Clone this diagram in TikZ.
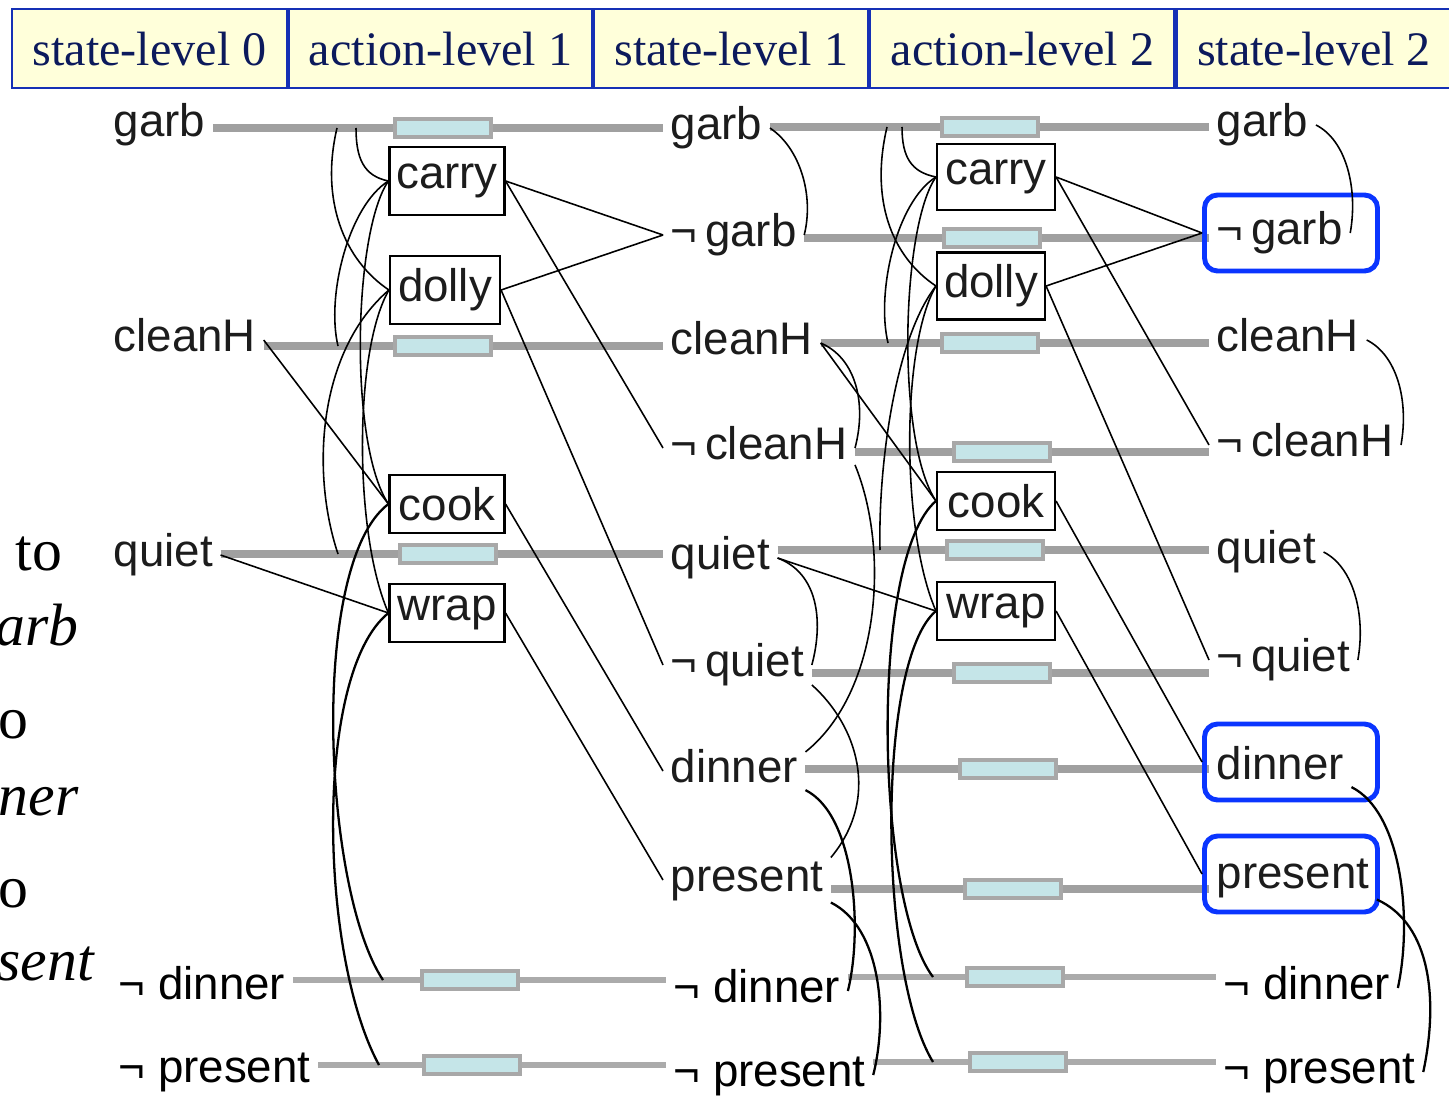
\documentclass[tikz,border=0pt]{standalone}
\usepackage{fontspec}
\setmainfont{Liberation Serif}
\setsansfont{Liberation Sans}
\usetikzlibrary{backgrounds}
\definecolor{hdrfill}{HTML}{FFFFDA}
\definecolor{hdrline}{HTML}{1530B5}
\definecolor{hdrtext}{HTML}{0C1A5C}
\definecolor{barcol}{HTML}{A0A0A0}
\definecolor{barlight}{HTML}{ABABAB}
\definecolor{noopfill}{HTML}{C5E5E8}
\definecolor{noopline}{HTML}{A8A8A8}
\definecolor{goalblue}{HTML}{0A35FF}
\definecolor{labcol}{HTML}{1C1C1C}
\begin{document}
\begin{tikzpicture}[x=0.1mm, y=-0.1mm,
  hdr/.style={draw=hdrline, fill=hdrfill, line width=0.6pt, minimum height=7.9mm, inner sep=0pt, text=hdrtext, font=\fontsize{13.7}{16}\selectfont, anchor=north west},
  lab/.style={anchor=west, inner sep=2pt, text height=9.7pt, text depth=2.9pt, text=labcol, font=\sffamily\fontsize{13}{15}\selectfont},
  neg/.style={lab, text=black},
  act/.style={draw, line width=0.6pt, fill=white, minimum width=11.5mm, inner sep=0pt, text=labcol, font=\sffamily\fontsize{13}{15}\selectfont},
  noop/.style={draw=noopline, fill=noopfill, line width=0.9pt, minimum width=9.6mm, minimum height=1.8mm, inner sep=0pt},
  bar/.style={draw=barcol, line width=2.3pt},
  thinbar/.style={draw=barlight, line width=1.8pt},
  goal/.style={draw=goalblue, line width=1.4pt, rounded corners=1.3mm, minimum width=17.3mm, minimum height=7.6mm},
  eff/.style={draw, line width=0.45pt},
  mx/.style={draw, line width=0.45pt},
  mxs/.style={draw, line width=0.65pt},
  side/.style={font=\fontsize{17}{20}\selectfont, anchor=base west, inner sep=0pt}
]
\useasboundingbox (0,0) rectangle (1449,1096);
\clip (0,0) rectangle (1449,1096);

\node[hdr, minimum width=27.5mm] (hs0) at (11,8) {state-level 0};
\node[hdr, minimum width=30.3mm] (ha1) at (hs0.north east) {action-level 1};
\node[hdr, minimum width=27.4mm] (hs1) at (ha1.north east) {state-level 1};
\node[hdr, minimum width=30.4mm] (ha2) at (hs1.north east) {action-level 2};
\node[hdr, minimum width=27.5mm] (hs2) at (ha2.north east) {state-level 2};

\node[side] (t1) at (15,570) {to};
\node[side] (t2) at (-5,645) {\itshape arb};
\node[side] (t3) at (-2,738) {o};
\node[side] (t4) at (-2,815) {\itshape ner};
\node[side] (t5) at (-2,907) {o};
\node[side] (t6) at (-3,980) {\itshape sent};

\node[lab] (s0garb) at (106,125) {garb};
\node[lab] (s0cleanH) at (106,340) {cleanH};
\node[lab] (s0quiet) at (106,555) {quiet};
\node[neg] (s0ndinner) at (111,988) {¬ dinner};
\node[neg] (s0npresent) at (111,1071) {¬ present};

\node[lab] (s1garb) at (663,128) {garb};
\node[lab] (s1ngarb) at (663,235) {¬\,garb};
\node[lab] (s1cleanH) at (663,343) {cleanH};
\node[lab] (s1ncleanH) at (663,448) {¬\,cleanH};
\node[lab] (s1quiet) at (663,558) {quiet};
\node[lab] (s1nquiet) at (663,665) {¬\,quiet};
\node[lab] (s1dinner) at (663,771) {dinner};
\node[lab] (s1present) at (663,880) {present};
\node[neg] (s1ndinner) at (666,991) {¬ dinner};
\node[neg] (s1npresent) at (666,1075) {¬ present};

\node[lab] (s2garb) at (1209,125) {garb};
\node[lab] (s2ngarb) at (1209,233) {¬\,garb};
\node[lab] (s2cleanH) at (1209,340) {cleanH};
\node[lab] (s2ncleanH) at (1209,445) {¬\,cleanH};
\node[lab] (s2quiet) at (1209,552) {quiet};
\node[lab] (s2nquiet) at (1209,660) {¬\,quiet};
\node[lab] (s2dinner) at (1209,768) {dinner};
\node[lab] (s2present) at (1209,877) {present};
\node[neg] (s2ndinner) at (1216,988) {¬ dinner};
\node[neg] (s2npresent) at (1216,1072) {¬ present};

\node[goal] (goalngarb) at (1291,233) {};
\node[goal] (goaldinner) at (1291,762) {};
\node[goal] (goalpresent) at (1291,874) {};

\node[noop] (n1garb) at (443,128) {};
\node[noop] (n1cleanH) at (443,346) {};
\node[noop] (n1quiet) at (448,554) {};
\node[noop] (n1ndinner) at (470,980) {};
\node[noop] (n1npresent) at (472,1065) {};

\node[noop] (n2garb) at (990,127) {};
\node[noop] (n2ngarb) at (992,238) {};
\node[noop] (n2cleanH) at (990,343) {};
\node[noop] (n2ncleanH) at (1002,452) {};
\node[noop] (n2quiet) at (995,550) {};
\node[noop] (n2nquiet) at (1002,673) {};
\node[noop] (n2dinner) at (1008,769) {};
\node[noop] (n2present) at (1013,889) {};
\node[noop] (n2ndinner) at (1015,977) {};
\node[noop] (n2npresent) at (1018,1062) {};

\begin{scope}[on background layer]
\draw[bar] (s0garb.east |- n1garb) -- (s1garb.west |- n1garb);
\draw[bar] (s0cleanH.east |- n1cleanH) -- (s1cleanH.west |- n1cleanH);
\draw[bar] (s0quiet.east |- n1quiet) -- (s1quiet.west |- n1quiet);
\draw[thinbar] (s0ndinner.east |- n1ndinner) -- (s1ndinner.west |- n1ndinner);
\draw[thinbar] (s0npresent.east |- n1npresent) -- (s1npresent.west |- n1npresent);
\draw[bar] (s1garb.east |- n2garb) -- (s2garb.west |- n2garb);
\draw[bar] (s1ngarb.east |- n2ngarb) -- (s2ngarb.west |- n2ngarb);
\draw[bar] (s1cleanH.east |- n2cleanH) -- (s2cleanH.west |- n2cleanH);
\draw[bar] (s1ncleanH.east |- n2ncleanH) -- (s2ncleanH.west |- n2ncleanH);
\draw[bar] (s1quiet.east |- n2quiet) -- (s2quiet.west |- n2quiet);
\draw[bar] (s1nquiet.east |- n2nquiet) -- (s2nquiet.west |- n2nquiet);
\draw[bar] (s1dinner.east |- n2dinner) -- (s2dinner.west |- n2dinner);
\draw[bar] (s1present.east |- n2present) -- (s2present.west |- n2present);
\draw[thinbar] (s1ndinner.east |- n2ndinner) -- (s2ndinner.west |- n2ndinner);
\draw[thinbar] (s1npresent.east |- n2npresent) -- (s2npresent.west |- n2npresent);
\end{scope}

\node[act, minimum height=6.8mm] (carry1) at (447,181) {carry};
\node[act, minimum height=6.8mm, minimum width=11mm] (dolly1) at (445,290) {dolly};
\node[act, minimum height=5.8mm] (cook1) at (447,504) {cook};
\node[act, minimum height=5.8mm] (wrap1) at (447,613) {wrap};
\node[act, minimum height=6.6mm, minimum width=11.8mm] (carry2) at (996,177) {carry};
\node[act, minimum height=6.7mm, minimum width=10.8mm] (dolly2) at (991,286) {dolly};
\node[act, minimum height=5.8mm, minimum width=11.8mm] (cook2) at (996,501) {cook};
\node[act, minimum height=5.8mm, minimum width=11.8mm] (wrap2) at (996,611) {wrap};

\coordinate (g1a) at (356,128);
\coordinate (g1b) at (337,128);
\coordinate (c1a) at (338,346);
\coordinate (q1a) at (338,554);
\coordinate (d1a) at (383,980);
\coordinate (p1a) at (379,1065);
\coordinate (g2a) at (902,127);
\coordinate (g2b) at (887,127);
\coordinate (c2a) at (888,343);
\coordinate (q2a) at (880,550);
\coordinate (d2a) at (933,977);
\coordinate (p2a) at (933,1062);

\draw[eff] (s0cleanH.east) -- (cook1.west);
\draw[eff] (s0quiet.east) -- (wrap1.west);
\draw[eff] (carry1.east) -- (s1ngarb.west);
\draw[eff] (carry1.east) -- (s1ncleanH.west);
\draw[eff] (dolly1.east) -- (s1ngarb.west);
\draw[eff] (dolly1.east) -- (s1nquiet.west);
\draw[eff] (cook1.east) -- (s1dinner.west);
\draw[eff] (wrap1.east) -- (s1present.west);
\draw[eff] (s1cleanH.east) -- (cook2.west);
\draw[eff] (s1quiet.east) -- (wrap2.west);
\draw[eff] (carry2.east) -- (goalngarb.west);
\draw[eff] (carry2.east) -- (s2ncleanH.west);
\draw[eff] (dolly2.east) -- (goalngarb.west);
\draw[eff] (dolly2.east) -- (s2nquiet.west);
\draw[eff] (cook2.east) -- (goaldinner.west);
\draw[eff] (wrap2.east) -- (goalpresent.west);

\draw[mx] (g1a) .. controls +(0,30) and +(-25,-5) .. (carry1.west);
\draw[mx] (g1b) .. controls +(-17,72) and +(-45,-30) .. (dolly1.west);
\draw[mx] (carry1.west) .. controls +(-40,25) and +(-12,-50) .. (c1a);
\draw[mx] (carry1.west) .. controls +(-35,50) and +(-40,-60) .. (cook1.west);
\draw[mx] (dolly1.west) .. controls +(-70,60) and +(-28,-84) .. (q1a);
\draw[mx] (dolly1.west) .. controls +(-35,60) and +(-35,-80) .. (wrap1.west);
\draw[mxs] (cook1.west) .. controls +(-80,60) and +(-60,-90) .. (d1a);
\draw[mxs] (wrap1.west) .. controls +(-75,60) and +(-60,-110) .. (p1a);

\draw[mx] (g2a) .. controls +(0,30) and +(-25,-5) .. (carry2.west);
\draw[mx] (g2b) .. controls +(-17,72) and +(-45,-30) .. (dolly2.west);
\draw[mx] (carry2.west) .. controls +(-40,25) and +(-12,-50) .. (c2a);
\draw[mx] (carry2.west) .. controls +(-35,50) and +(-40,-60) .. (cook2.west);
\draw[mx] (dolly2.west) .. controls +(-42,54) and +(-2,-80) .. (q2a);
\draw[mx] (dolly2.west) .. controls +(-35,60) and +(-35,-80) .. (wrap2.west);
\draw[mxs] (cook2.west) .. controls +(-67,57) and +(-58,-77) .. (d2a);
\draw[mxs] (wrap2.west) .. controls +(-60,50) and +(-55,-90) .. (p2a);

\draw[mx] (s1garb.east) .. controls +(30,20) and +(10,-40) .. (s1ngarb.east);
\draw[mx] (s1cleanH.east) .. controls +(35,15) and +(12,-45) .. (s1ncleanH.east);
\draw[mx] (s1quiet.east) .. controls +(40,15) and +(12,-45) .. (s1nquiet.east);
\draw[mx] (s1dinner.15) .. controls +(75,-60) and +(35,85) .. (s1ncleanH.-10);
\draw[mx] (s1nquiet.-15) .. controls +(45,40) and +(50,-60) .. (s1present.15);
\draw[mxs] (s1dinner.-15) .. controls +(50,25) and +(15,-60) .. (s1ndinner.east);
\draw[mxs] (s1present.-15) .. controls +(50,25) and +(15,-60) .. (s1npresent.east);

\draw[mx] (s2garb.east) .. controls +(30,15) and +(8,-45) .. (s2ngarb.east);
\draw[mx] (s2cleanH.east) .. controls +(30,15) and +(8,-45) .. (s2ncleanH.east);
\draw[mx] (s2quiet.east) .. controls +(30,15) and +(8,-45) .. (s2nquiet.east);
\draw[mxs] (s2dinner.-15) .. controls +(50,25) and +(15,-70) .. (s2ndinner.east);
\draw[mxs] (s2present.-15) .. controls +(55,25) and +(15,-70) .. (s2npresent.east);
\end{tikzpicture}
\end{document}
